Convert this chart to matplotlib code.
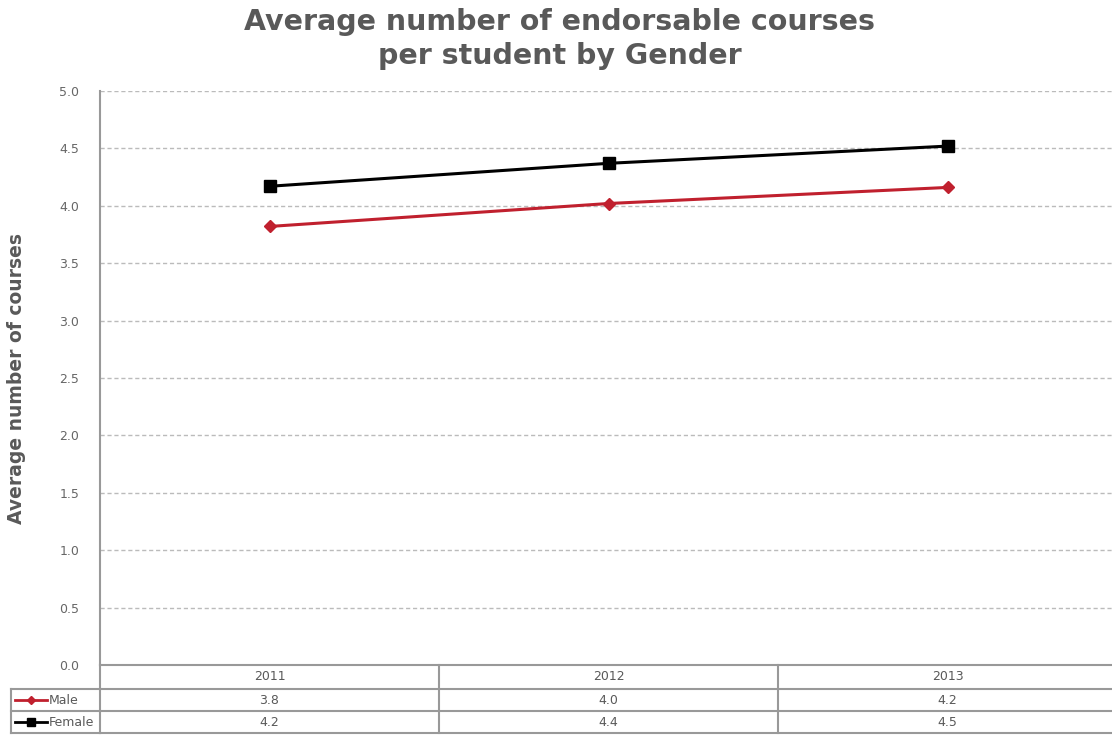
import matplotlib.pyplot as plt
from matplotlib.lines import Line2D
import matplotlib.transforms as mtransforms

years = ['2011', '2012', '2013']
male = [3.82, 4.02, 4.16]
female = [4.17, 4.37, 4.52]
male_lbl = ['3.8', '4.0', '4.2']
female_lbl = ['4.2', '4.4', '4.5']

W, H = 1112, 735
fig = plt.figure(figsize=(W / 100, H / 100), dpi=100)
plt.rcParams['font.family'] = ['DejaVu Sans']

def fx(px):
    return px / W

def fy(py):
    return 1 - py / H

# plot area
ax = fig.add_axes([fx(100), fy(665), fx(1117 - 100), fy(91) - fy(665)])
x = list(range(len(years)))
ax.plot(x, female, color='black', lw=2.2, marker='s', ms=9, zorder=3)
ax.plot(x, male, color='#C0202E', lw=2.2, marker='D', ms=6.5, zorder=3)
ax.set_xlim(-0.5, len(years) - 0.5)
ax.set_ylim(0, 5)
ax.set_yticks([i * 0.5 for i in range(11)])
ax.set_yticklabels(['%.1f' % (i * 0.5) for i in range(11)])
ax.set_xticks([])
ax.grid(axis='y', ls=(0, (3, 2)), color='#BBBBBB', lw=1)
ax.set_axisbelow(True)
for s in ['top', 'right']:
    ax.spines[s].set_visible(False)
ax.spines['left'].set_color('#999999')
ax.spines['left'].set_linewidth(1.5)
ax.spines['bottom'].set_color('#999999')
ax.spines['bottom'].set_linewidth(1.5)
ax.tick_params(axis='y', length=0, pad=15, labelsize=9, labelcolor='#666666')

fig.text(0.503, fy(39), 'Average number of endorsable courses\nper student by Gender',
         ha='center', va='center', fontsize=20.5, fontweight='bold', color='#595959',
         linespacing=1.3)
fig.text(fx(17), fy(378), 'Average number of courses', rotation=90, ha='center',
         va='center', fontsize=13.5, fontweight='bold', color='#595959')

# data table under the axis
tr = mtransforms.blended_transform_factory(ax.transData, fig.transFigure)
gc = '#999999'
rows = [665, 689, 711, 733]

def hline(x0, x1, y, trans):
    fig.add_artist(Line2D([x0, x1], [fy(y), fy(y)], color=gc, lw=1.5, transform=trans))

def vline(xx, y0, y1, trans):
    fig.add_artist(Line2D([xx, xx], [fy(y0), fy(y1)], color=gc, lw=1.5, transform=trans))

for y in rows[1:]:
    hline(-0.5, len(years) - 0.5, y, tr)
for i in range(len(years) + 1):
    vline(i - 0.5, rows[0], rows[-1], tr)
hline(fx(11), fx(100), rows[1], fig.transFigure)
hline(fx(11), fx(100), rows[3], fig.transFigure)
hline(fx(11), fx(100), rows[2], fig.transFigure)
vline(fx(11), rows[1], rows[3], fig.transFigure)

for i, yr in enumerate(years):
    fig.text(i, fy((rows[0] + rows[1]) / 2), yr, transform=tr, ha='center', va='center',
             fontsize=9, color='#595959')
    fig.text(i, fy((rows[1] + rows[2]) / 2), male_lbl[i], transform=tr, ha='center',
             va='center', fontsize=9, color='#595959')
    fig.text(i, fy((rows[2] + rows[3]) / 2), female_lbl[i], transform=tr, ha='center',
             va='center', fontsize=9, color='#595959')

# legend keys in the table
for (name, col, mk, ms), (y0, y1) in zip(
        [('Male', '#C0202E', 'D', 4.5), ('Female', 'black', 's', 6)],
        [(rows[1], rows[2]), (rows[2], rows[3])]):
    ym = fy((y0 + y1) / 2)
    fig.add_artist(Line2D([fx(15), fx(47)], [ym, ym], color=col, lw=2,
                          transform=fig.transFigure))
    fig.add_artist(Line2D([fx(31)], [ym], color=col, marker=mk, ms=ms, lw=0,
                          transform=fig.transFigure))
    fig.text(fx(49), ym, name, ha='left', va='center', fontsize=9, color='#595959')

fig.savefig('out.png', dpi=100)
